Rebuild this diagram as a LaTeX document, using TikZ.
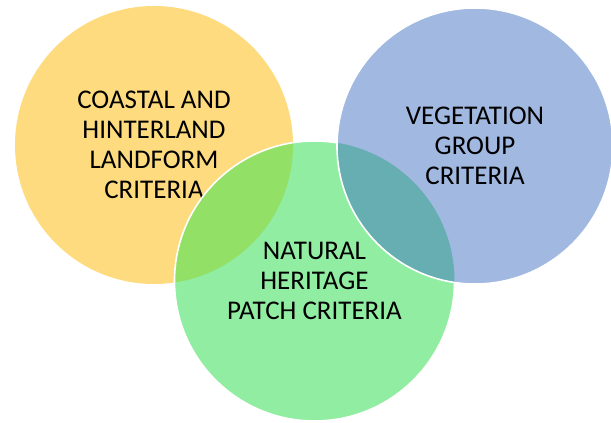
\documentclass[tikz,border=0pt]{standalone}
\usepackage{fontspec}
\setmainfont{Carlito}

\definecolor{coastfill}{HTML}{FDDB7E}
\definecolor{patchfill}{HTML}{91EDA1}
\definecolor{vegfill}{HTML}{A1B8E1}
\definecolor{limefill}{HTML}{93E067}
\definecolor{tealfill}{HTML}{67AEB3}

\begin{document}
\begin{tikzpicture}[%
  x=1pt, y=-1pt,
  venn/.style={circle, inner sep=0pt, align=center,
    font=\fontsize{27}{30}\selectfont},
  rim/.style={draw=white, line width=1.6pt},
]

  \useasboundingbox (0,0) rectangle (611,423);

  % the three sets
  \node[venn, fill=coastfill, minimum size=278pt] (coast) at (154,145)
    {COASTAL AND\\HINTERLAND\\LANDFORM\\CRITERIA};
  \node[venn, fill=patchfill, minimum size=280pt] (patch) at (314.5,281)
    {NATURAL\\HERITAGE\\PATCH CRITERIA};

  % overlap coast / patch
  \begin{scope}
    \clip (coast.center) circle[radius=139pt];
    \fill[limefill] (patch.center) circle[radius=140pt];
  \end{scope}
  \draw[rim] (patch.center) circle[radius=140pt];

  \node[venn, fill=vegfill, minimum size=276pt] (veg) at (475,146)
    {VEGETATION\\GROUP\\CRITERIA};

  % overlap patch / veg
  \begin{scope}
    \clip (veg.center) circle[radius=138pt];
    \fill[tealfill] (patch.center) circle[radius=140pt];
  \end{scope}
  \draw[rim] (veg.center) circle[radius=138pt];

\end{tikzpicture}
\end{document}
